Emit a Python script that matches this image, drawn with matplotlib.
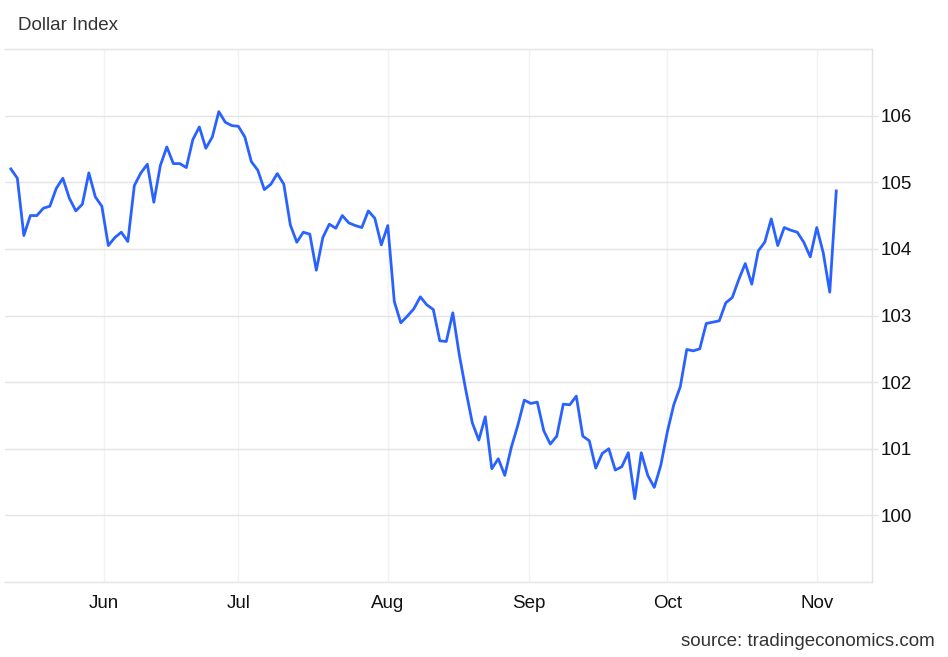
import numpy as np
import pandas as pd
import matplotlib
matplotlib.use("Agg")
import matplotlib.pyplot as plt

TITLE = "Dollar Index"
SOURCE = "source: tradingeconomics.com"

# trading days, 13 May 2024 .. 6 Nov 2024
DATES = pd.bdate_range("2024-05-13", "2024-11-06")
VALUES = [
    105.20, 105.06, 104.20, 104.50, 104.50, 104.61, 104.64, 104.91, 105.06, 104.76,
    104.57, 104.67, 105.14, 104.78, 104.64, 104.05, 104.17, 104.25, 104.11, 104.95,
    105.14, 105.27, 104.70, 105.25, 105.53, 105.28, 105.28, 105.22, 105.64, 105.83,
    105.51, 105.68, 106.06, 105.90, 105.85, 105.84, 105.68, 105.31, 105.18, 104.89,
    104.97, 105.13, 104.97, 104.36, 104.10, 104.25, 104.22, 103.68, 104.17, 104.37,
    104.31, 104.50, 104.39, 104.35, 104.32, 104.57, 104.46, 104.06, 104.35, 103.21,
    102.89, 102.99, 103.10, 103.28, 103.16, 103.09, 102.62, 102.61, 103.04, 102.41,
    101.88, 101.39, 101.13, 101.48, 100.70, 100.85, 100.60, 101.02, 101.35, 101.73,
    101.68, 101.70, 101.27, 101.07, 101.19, 101.67, 101.66, 101.79, 101.19, 101.12,
    100.71, 100.93, 101.00, 100.68, 100.73, 100.94, 100.25, 100.94, 100.60, 100.42,
    100.75, 101.25, 101.66, 101.93, 102.49, 102.47, 102.50, 102.88, 102.90, 102.92,
    103.19, 103.27, 103.54, 103.78, 103.47, 103.97, 104.10, 104.45, 104.05, 104.32,
    104.28, 104.25, 104.10, 103.88, 104.32, 103.94, 103.35, 104.87,
]
MONTHS = ["2024-06-01", "2024-07-01", "2024-08-01", "2024-09-01", "2024-10-01", "2024-11-01"]
MONTH_LABELS = ["Jun", "Jul", "Aug", "Sep", "Oct", "Nov"]
YTICKS = [100, 101, 102, 103, 104, 105, 106]

LINE_COLOR = "#2962ff"
GRID_COLOR = "#e4e4e4"
FS = 13.5


def main():
    plt.rcParams["font.family"] = ["Liberation Sans", "DejaVu Sans"]

    fig = plt.figure(figsize=(9.48, 6.57), dpi=100)
    ax = fig.add_axes([5 / 948, 1 - 582 / 657, 867 / 948, 533 / 657])

    idx = np.arange(len(DATES))
    ax.plot(idx, VALUES, color=LINE_COLOR, lw=2.0, solid_joinstyle="round", zorder=3)

    # month ticks sit at the calendar start of month, between trading days
    day_num = DATES.values.astype("datetime64[D]").astype(float)
    month_num = pd.to_datetime(MONTHS).values.astype("datetime64[D]").astype(float)
    ax.set_xticks(np.interp(month_num, day_num, idx))
    ax.set_xticklabels(MONTH_LABELS)
    ax.set_xlim(-0.9, 132.5)

    ax.set_ylim(99, 107)
    ax.set_yticks(YTICKS)
    ax.yaxis.tick_right()

    ax.grid(axis="y", color=GRID_COLOR, lw=1)
    ax.grid(axis="x", color="#f0f2f5", lw=1)
    ax.set_axisbelow(True)

    ax.spines["left"].set_visible(False)
    for side in ["top", "bottom", "right"]:
        ax.spines[side].set_color(GRID_COLOR)
        ax.spines[side].set_linewidth(1)

    ax.tick_params(axis="x", length=0, pad=9, labelsize=FS, labelcolor="#111111")
    ax.tick_params(axis="y", length=4, width=1, color=GRID_COLOR, pad=2.5,
                   labelsize=FS, labelcolor="#111111")

    fig.text(18 / 948, 1 - 25 / 657, TITLE, fontsize=FS, color="#333333", va="center")
    fig.text(935 / 948, 1 - 641 / 657, SOURCE, fontsize=FS, color="#333333",
             ha="right", va="center")

    fig.savefig("out.png", dpi=100)


if __name__ == "__main__":
    main()
